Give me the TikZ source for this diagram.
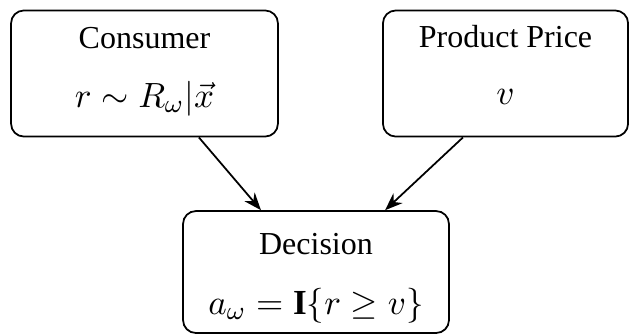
\documentclass[tikz,border=0pt]{standalone}
\usepackage{fontspec}
\setmainfont{Liberation Serif}
\usetikzlibrary{arrows.meta}

\tikzset{
  box/.style={draw,rounded corners=4pt,line width=0.55pt,inner sep=0pt},
  txt/.style={anchor=base,inner sep=0pt},
  eq/.style={txt,font=\fontsize{11}{13}\selectfont},
  link/.style={-{Stealth[length=5.5pt,width=4.2pt]},line width=0.55pt}
}

\begin{document}
\begin{tikzpicture}[x=0.3125pt,y=-0.3125pt]
\useasboundingbox (0,0) rectangle (639,335);

% the three boxes
\node[box,minimum width=83.4pt,minimum height=39.4pt] (consumer) at (144.5,73.5) {};
\node[box,minimum width=76.6pt,minimum height=39.4pt] (price) at (505.5,73.5) {};
\node[box,minimum width=83.1pt,minimum height=38.1pt] (decision) at (316,272) {};

% titles and formulas
\node[txt] (consumer-title) at (144.5,48) {Consumer};
\node[eq] (consumer-eq) at (144.5,107) {$r\sim R_\omega|\vec{x}$};
\node[txt] (price-title) at (505.5,47) {Product Price};
\node[eq] (price-eq) at (505.5,104) {$v$};
\node[txt] (decision-title) at (316,254) {Decision};
\node[eq] (decision-eq) at (316,314) {$a_\omega=\mathbf{I}\{r\geq v\}$};

\draw[link] ([xshift=17pt]consumer.south) -- ([xshift=-17.2pt]decision.north);
\draw[link] ([xshift=-13.3pt]price.south) -- ([xshift=21.6pt]decision.north);
\end{tikzpicture}
\end{document}
